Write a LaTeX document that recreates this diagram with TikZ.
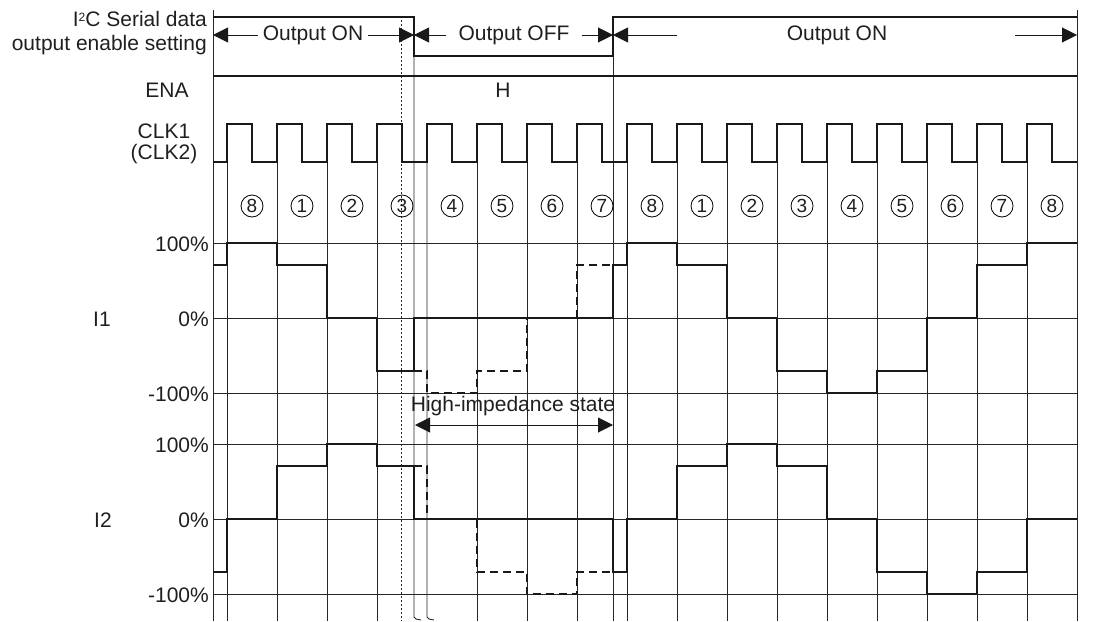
\documentclass[tikz,border=0pt]{standalone}
\usepackage{fontspec}
\setmainfont{Liberation Sans}
\usetikzlibrary{arrows.meta}
\begin{document}
\begin{tikzpicture}[x=1pt,y=-1pt,
  every node/.style={font=\fontsize{21}{25}\selectfont, text=black!88, inner sep=0pt},
  grid/.style={line width=0.9pt, black!85},
  wave/.style={line width=2.9pt, line join=miter, black!90},
  ghost/.style={line width=2.7pt, black!90, dash pattern=on 8pt off 5pt},
  arr/.style={line width=1pt, black!90, -{Triangle[length=15pt,width=15pt]}},
  num/.style={circle, draw, line width=0.8pt, minimum size=22pt, inner sep=0pt, font=\fontsize{19}{19}\selectfont},
  lbl/.style={anchor=east},
]
\useasboundingbox (0,0) rectangle (1107,621);

% ---------- grid ----------
\foreach \yy in {243,318,393,444,519,594}
  \draw[grid] (213,\yy) -- (1077,\yy);
\foreach \k in {0,...,3,5,6,...,16}
  \draw[grid] ({227+50*\k},162) -- ({227+50*\k},621);
\draw[grid] (427,162) -- (427,617) -- (429,619) -- (434,620);
\draw[grid] (414,17) -- (414,617) -- (416,619) -- (421,620);
\draw[grid] (613,17) -- (613,621);
\draw[grid] (213,10) -- (213,621);
\draw[grid] (1077,10) -- (1077,621);
\draw[line width=1pt, black!85, dash pattern=on 2pt off 2pt] (401,20) -- (401,621);

% ---------- top signal ----------
\draw[wave] (213,17) -- (414,17) -- (414,56) -- (613,56) -- (613,17) -- (1077,17);
\draw[line width=2.4pt, black!90] (213,76) -- (1077,76);

% ---------- labels ----------
\node[lbl] (l1) at (207,19) {I\raisebox{5pt}{\fontsize{12}{12}\selectfont 2}C Serial data};
\node[lbl] (l2) at (207,45) {output enable setting};
\node (ena) at (167,90) {ENA};
\node (h) at (503,90) {H};
\node (clk1) at (164,131) {CLK1};
\node (clk2) at (164,154) {(CLK2)};
\node (i1) at (102,319) {I1};
\node (i2) at (103,520) {I2};
\node[lbl] (p1) at (209,244) {100\%};
\node[lbl] (p2) at (209,319) {0\%};
\node[lbl] (p3) at (209,394) {-100\%};
\node[lbl] (p4) at (209,445) {100\%};
\node[lbl] (p5) at (209,520) {0\%};
\node[lbl] (p6) at (209,595) {-100\%};

% ---------- output enable arrows ----------
\coordinate (e213) at (213,35);
\coordinate (e414a) at (414,35);
\coordinate (e414b) at (414,35);
\coordinate (e613a) at (613,35);
\coordinate (e613b) at (613,35);
\coordinate (e1077) at (1077,35);
\coordinate (s677) at (677,35);
\coordinate (s1015) at (1015,35);
\node (on1) at (313,35) {Output ON};
\node (off) at (514,35) {Output OFF};
\node (on2) at (837,35) {Output ON};
\draw[arr] ([xshift=-5pt]on1.west) -- (e213);
\draw[arr] ([xshift=5pt]on1.east) -- (e414a);
\draw[arr] ([xshift=-12pt]off.west) -- (e414b);
\draw[arr] ([xshift=12pt]off.east) -- (e613a);
\draw[arr] (s677) -- (e613b);
\draw[arr] (s1015) -- (e1077);

% ---------- clock ----------
\draw[wave] (213,162) foreach \k in {0,...,16} {
  -- ({227+50*\k},162) -- ({227+50*\k},124) -- ({252+50*\k},124) -- ({252+50*\k},162) } -- (1077,162);

% ---------- phase numbers ----------
\foreach \k/\n in {0/8,1/1,2/2,3/3,4/4,5/5,6/6,7/7,8/8,9/1,10/2,11/3,12/4,13/5,14/6,15/7,16/8}
  \node[num] (n\k) at ({252+50*\k},206) {\n};

% ---------- I1 ----------
\draw[wave] (213,265) -- (227,265) -- (227,243) -- (277,243) -- (277,265) -- (327,265)
  -- (327,318) -- (377,318) -- (377,371) -- (414,371) -- (414,318) -- (613,318)
  -- (613,265) -- (627,265) -- (627,243) -- (677,243) -- (677,265) -- (727,265)
  -- (727,318) -- (777,318) -- (777,371) -- (827,371) -- (827,393) -- (877,393)
  -- (877,371) -- (927,371) -- (927,318) -- (977,318) -- (977,265) -- (1027,265)
  -- (1027,243) -- (1077,243);
\draw[ghost] (414,371) -- (427,371) -- (427,393) -- (477,393) -- (477,371) -- (527,371)
  -- (527,318) -- (577,318) -- (577,265) -- (613,265);

% ---------- I2 ----------
\draw[wave] (213,572) -- (227,572) -- (227,519) -- (277,519) -- (277,466) -- (327,466)
  -- (327,444) -- (377,444) -- (377,466) -- (414,466) -- (414,519) -- (613,519)
  -- (613,572) -- (627,572) -- (627,519) -- (677,519) -- (677,466) -- (727,466)
  -- (727,444) -- (777,444) -- (777,466) -- (827,466) -- (827,519) -- (877,519)
  -- (877,572) -- (927,572) -- (927,594) -- (977,594) -- (977,572) -- (1027,572)
  -- (1027,519) -- (1077,519);
\draw[ghost] (414,466) -- (427,466) -- (427,519) -- (477,519) -- (477,572) -- (527,572)
  -- (527,594) -- (577,594) -- (577,572) -- (613,572);

% ---------- high impedance ----------
\node (hz) at (513,406) {High-impedance state};
\coordinate (hzl) at (415,425);
\coordinate (hzr) at (613,425);
\draw[line width=1pt, black!90, {Triangle[length=15pt,width=15pt]}-{Triangle[length=15pt,width=15pt]}] (hzl) -- (hzr);
\end{tikzpicture}
\end{document}
